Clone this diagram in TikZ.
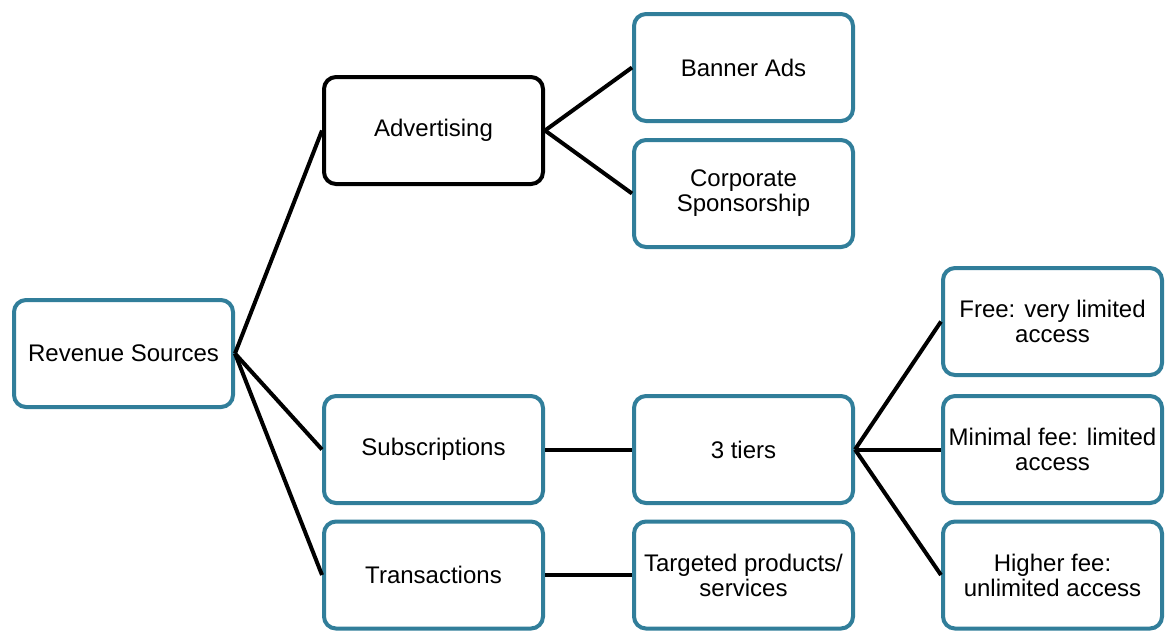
\documentclass[tikz,border=0pt]{standalone}
\usepackage{fontspec}
\setmainfont{Liberation Sans}
\usepackage{tikz}
\usetikzlibrary{arrows}
\definecolor{tealblue}{RGB}{49,126,154}

\begin{document}
\begin{tikzpicture}
% Node styles ---
\tikzstyle{box} = [rectangle, rounded corners = 0.24cm, line width = 0.08cm, minimum width = 4.38cm, minimum height = 2.14cm, inner sep = 0pt, align = center, draw = tealblue, fill = white, font = \fontsize{13.66}{14.2}\selectfont] % Boxes
\tikzstyle{adbox} = [box, draw = black] % Black framed box
% Edge styles
\tikzstyle{con} = [line width = 0.08cm, draw = black] % Links
% Begin Figure ---
\useasboundingbox (0,0) rectangle (23.3,-12.6);
% Nodes
\node at (+2.47,-7.07) [box] (rev) {Revenue Sources};
\node at (+8.67,-2.61) [adbox] (adv) {Advertising};
\node at (+8.67,-8.99) [box] (sub) {Subscriptions};
\node at (+8.67,-11.50) [box] (tra) {Transactions};
\node at (+14.87,-1.35) [box] (ban) {Banner Ads};
\node at (+14.87,-3.87) [box] (cor) {Corporate\\Sponsorship};
\node at (+14.87,-8.99) [box] (tie) {3 tiers};
\node at (+14.87,-11.50) [box] (tar) {Targeted products/\\services};
\node at (+21.05,-6.43) [box] (fre) {Free: very limited\\access};
\node at (+21.05,-8.99) [box] (min) {Minimal fee: limited\\access};
\node at (+21.05,-11.50) [box] (hig) {Higher fee:\\unlimited access};
% Paths
\path (rev.east) edge [con] (adv.west);
\path (rev.east) edge [con] (sub.west);
\path (rev.east) edge [con] (tra.west);
\path (adv.east) edge [con] (ban.west);
\path (adv.east) edge [con] (cor.west);
\path (sub.east) edge [con] (tie.west);
\path (tra.east) edge [con] (tar.west);
\path (tie.east) edge [con] (fre.west);
\path (tie.east) edge [con] (min.west);
\path (tie.east) edge [con] (hig.west);
\end{tikzpicture}
\end{document}
